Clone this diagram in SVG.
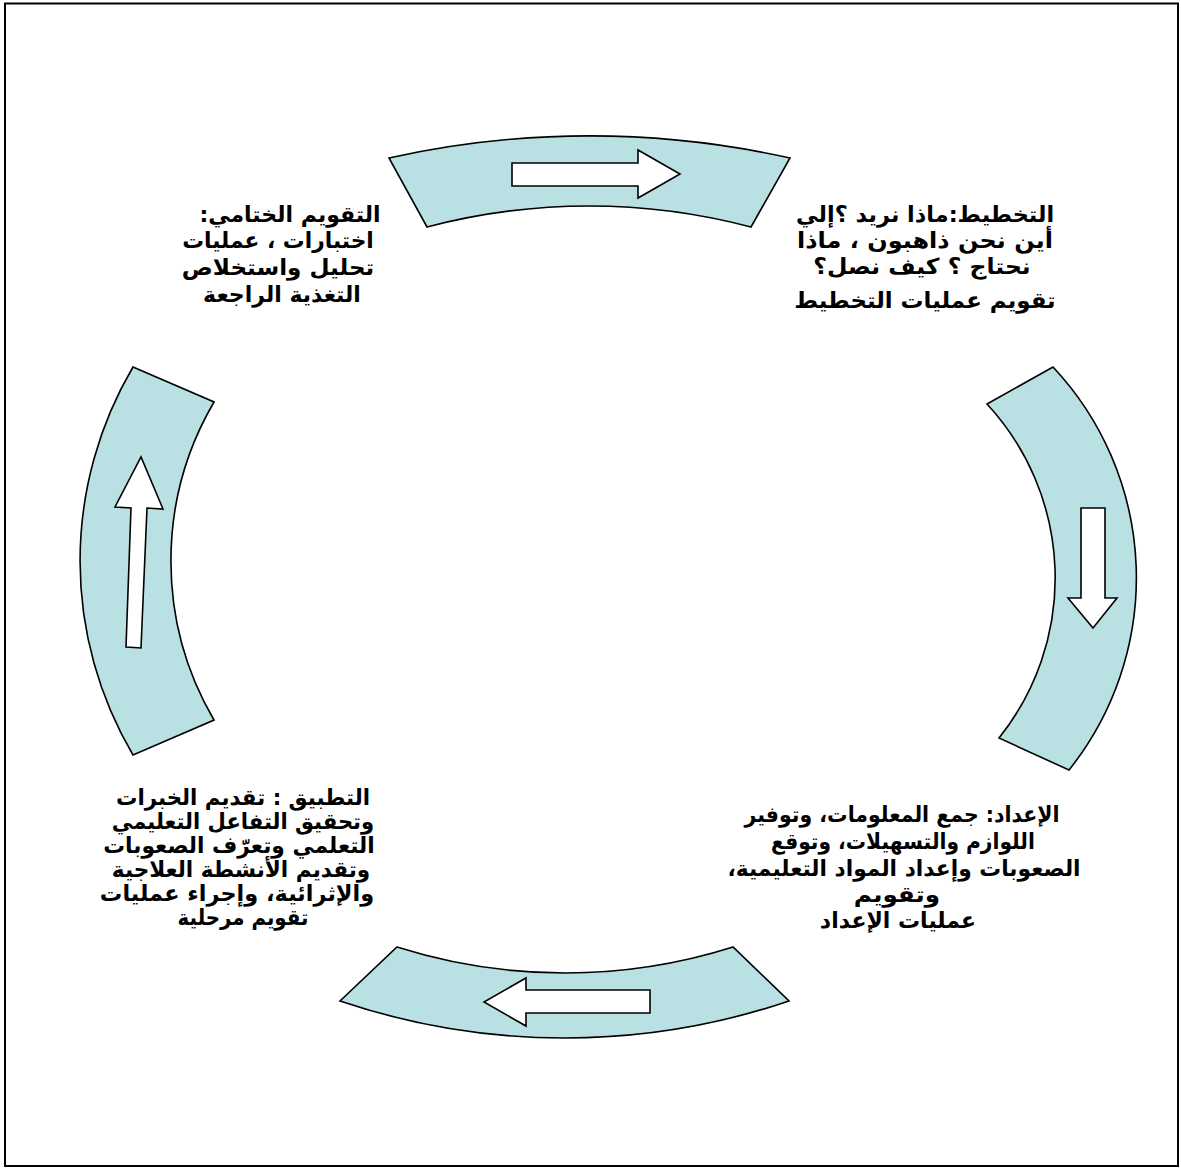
<svg xmlns="http://www.w3.org/2000/svg" width="1181" height="1169" viewBox="0 0 1181 1169">
<style>
.band{fill:#B9E0E3;stroke:#000;stroke-width:1.6;stroke-linejoin:miter}
.arr{fill:#fff;stroke:#000;stroke-width:1.6}
.t{font-family:"DejaVu Sans",sans-serif;font-weight:bold;font-size:22px;fill:#000;text-anchor:middle;direction:rtl}
</style>
<rect x="5" y="3.5" width="1173" height="1162.5" fill="#fff" stroke="#000" stroke-width="2"/>
<g id="connectors">
<g id="arc-top">
<path class="band" d="M389,158 A920,920 0 0 1 790,158 L751,227 A635,635 0 0 0 427,227 Z"/>
<path class="arr" d="M512,163 L638,163 L638,150 L680,174 L638,198 L638,186 L512,186 Z"/>
</g>
<g id="arc-right">
<path class="band" d="M1053,367 A308,308 0 0 1 1069,770 L999,738 A256,256 0 0 0 987,404 Z"/>
<path class="arr" d="M1081,508 L1105,508 L1105,598 L1117,598 L1093,628 L1068,598 L1081,598 Z"/>
</g>
<g id="arc-bottom">
<path class="band" d="M340,1001 L397,947 A556,556 0 0 0 733,947 L789,1001 A700,700 0 0 1 340,1001 Z"/>
<path class="arr" d="M650,990 L526,990 L526,978 L484,1002 L526,1026 L526,1013 L650,1013 Z"/>
</g>
<g id="arc-left">
<path class="band" d="M133,367 L214,402 A315,315 0 0 0 214,720 L133,755 A382,382 0 0 1 133,367 Z"/>
<path class="arr" d="M126,647 L131,508 L115,507 L141,457 L163,509 L147,508 L141,648 Z"/>
</g>
</g>
<g id="node-planning">
<text class="t" transform="translate(925,222) scale(1.02,1)">التخطيط:ماذا نريد ؟إلي</text>
<text class="t" transform="translate(925,248) scale(1.09,1)">أين نحن ذاهبون ، ماذا</text>
<text class="t" transform="translate(922,274) scale(1.07,1)">نحتاج ؟ كيف نصل؟</text>
<text class="t" transform="translate(925,308) scale(1.04,1)">تقويم عمليات التخطيط</text>
</g>
<g id="node-final-evaluation">
<text class="t" x="290" y="222">التقويم الختامي:</text>
<text class="t" transform="translate(278,248) scale(0.99,1)">اختبارات ، عمليات</text>
<text class="t" transform="translate(278,275) scale(1.05,1)">تحليل واستخلاص</text>
<text class="t" x="282" y="302">التغذية الراجعة</text>
</g>
<g id="node-preparation">
<text class="t" transform="translate(902,822) scale(0.93,1)">الإعداد: جمع المعلومات، وتوفير</text>
<text class="t" transform="translate(903,849) scale(0.92,1)">اللوازم والتسهيلات، وتوقع</text>
<text class="t" transform="translate(904,876) scale(0.99,1)">الصعوبات وإعداد المواد التعليمية،</text>
<text class="t" transform="translate(897,902) scale(1.12,1)">وتقويم</text>
<text class="t" x="898" y="928">عمليات الإعداد</text>
</g>
<g id="node-application">
<text class="t" transform="translate(243,805) scale(0.97,1)">التطبيق : تقديم الخبرات</text>
<text class="t" transform="translate(243,829) scale(0.96,1)">وتحقيق التفاعل التعليمي</text>
<text class="t" transform="translate(239,853) scale(0.99,1)">التعلمي وتعرّف الصعوبات</text>
<text class="t" transform="translate(241,877) scale(0.98,1)">وتقديم الأنشطة العلاجية</text>
<text class="t" transform="translate(237,901) scale(1.02,1)">والإثرائية، وإجراء عمليات</text>
<text class="t" transform="translate(243,925) scale(0.9,1)">تقويم مرحلية</text>
</g>
</svg>
